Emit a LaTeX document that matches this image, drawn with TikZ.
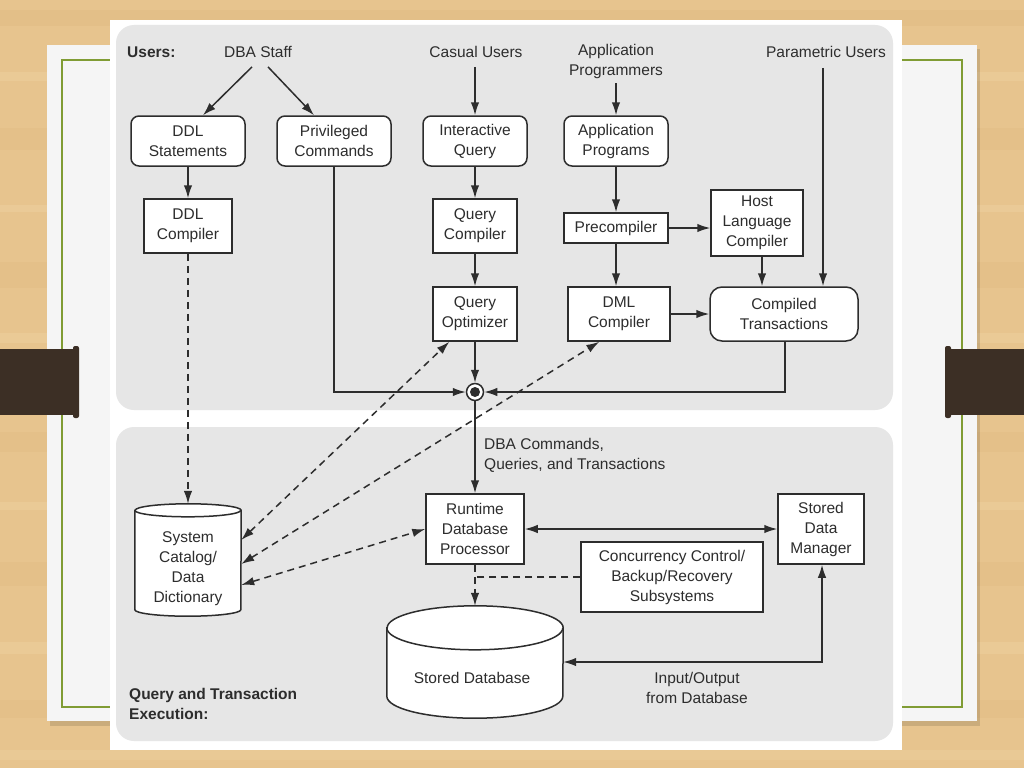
\documentclass[tikz,border=0pt]{standalone}
\usepackage{fontspec}
\setmainfont{Liberation Sans}
\usetikzlibrary{arrows.meta,calc}
\definecolor{ink}{RGB}{45,45,45}
\definecolor{panel}{RGB}{230,230,230}
\definecolor{wood}{RGB}{231,196,142}
\definecolor{woodd}{RGB}{214,172,112}
\definecolor{woodl}{RGB}{242,216,170}
\definecolor{card}{RGB}{245,245,245}
\definecolor{frameg}{RGB}{128,156,52}
\definecolor{tabc}{RGB}{60,47,37}
\begin{document}
\begin{tikzpicture}[x=1pt,y=-1pt,
  font=\fontsize{15.5}{20}\selectfont, text=ink,
  line/.style={draw=ink, line width=1.5pt},
  arrtip/.style={-{Latex[length=13pt,width=8.5pt]}},
  twotip/.style={{Latex[length=13pt,width=8.5pt]}-{Latex[length=13pt,width=8.5pt]}},
  arr/.style={line, arrtip},
  dsh/.style={dash pattern=on 7pt off 5pt},
  darr/.style={line, dsh, twotip},
  rbox/.style={draw=ink, line width=1.5pt, fill=white, rounded corners=8pt, align=center, inner sep=0pt},
  sbox/.style={draw=ink, line width=1.5pt, fill=white, align=center, inner sep=0pt},
  lbl/.style={align=center, inner sep=0pt},
  body/.style={inner sep=0pt, draw=none},
]
\useasboundingbox (0,0) rectangle (1024,768);
% wooden background
\fill[wood] (0,0) rectangle (1024,768);
\foreach \y/\h/\c/\o in {10/16/woodd/0.18, 72/9/woodl/0.3, 128/22/woodd/0.14, 205/7/woodl/0.35, 262/26/woodd/0.16, 333/10/woodl/0.3, 432/20/woodd/0.16, 502/8/woodl/0.3, 562/24/woodd/0.14, 642/12/woodl/0.3, 700/18/woodd/0.16, 750/10/woodl/0.25}
  \fill[\c, opacity=\o] (0,\y) rectangle (1024,\y+\h);
% slide card
\fill[black, opacity=0.12] (50,49) rectangle (980,726);
\fill[card] (47,45) rectangle (977,721);
\draw[frameg, line width=1.5pt] (62,60) rectangle (962,707);
% tabs
\fill[tabc] (0,349) rectangle (76,415);
\fill[tabc, rounded corners=2pt] (73,346) rectangle (79,418);
\fill[tabc] (948,349) rectangle (1024,415);
\fill[tabc, rounded corners=2pt] (945,346) rectangle (951,418);
% diagram sheet
\fill[white] (110,20) rectangle (902,750);
\fill[panel, rounded corners=18pt] (116,25) rectangle (893,410);
\fill[panel, rounded corners=18pt] (116,427) rectangle (893,741);

% labels
\node[lbl, anchor=west, font=\fontsize{15.5}{20}\selectfont\bfseries] (users) at (127,52) {Users:};
\node[lbl] (dba) at (258,52) {DBA Staff};
\node[lbl] (casual) at (476,52) {Casual Users};
\node[lbl] (appprog) at (616,61) {Application\\Programmers};
\node[lbl] (param) at (826,52) {Parametric Users};

% top nodes
\node[rbox, minimum width=114pt, minimum height=50pt] (ddls) at (188,141) {DDL\\Statements};
\node[rbox, minimum width=114pt, minimum height=50pt] (priv) at (334,141) {Privileged\\Commands};
\node[rbox, minimum width=104pt, minimum height=50pt] (iq) at (475,141) {Interactive\\Query};
\node[rbox, minimum width=104pt, minimum height=50pt] (ap) at (616,141) {Application\\Programs};
\node[sbox, minimum width=88pt, minimum height=54pt] (ddlc) at (188,226) {DDL\\Compiler};
\node[sbox, minimum width=84pt, minimum height=54pt] (qc) at (475,226) {Query\\Compiler};
\node[sbox, minimum width=104pt, minimum height=30pt] (pre) at (616,228) {Precompiler};
\node[sbox, minimum width=92pt, minimum height=66pt] (hlc) at (757,223) {Host\\Language\\Compiler};
\node[sbox, minimum width=84pt, minimum height=54pt] (qo) at (475,314) {Query\\Optimizer};
\node[sbox, minimum width=102pt, minimum height=54pt] (dml) at (619,314) {DML\\Compiler};
\node[rbox, rounded corners=12pt, minimum width=148pt, minimum height=54pt] (ct) at (784,314) {Compiled\\Transactions};
\node[circle, draw=ink, line width=1.5pt, fill=white, minimum size=17pt, inner sep=0pt] (j) at (475,392) {};
\fill[ink] (j.center) circle (5);

% bottom nodes
\node[sbox, minimum width=98pt, minimum height=70pt] (rdp) at (475,529) {Runtime\\Database\\Processor};
\node[sbox, minimum width=86pt, minimum height=70pt] (sdm) at (821,529) {Stored\\Data\\Manager};
\node[sbox, minimum width=182pt, minimum height=70pt] (ccb) at (672,577) {Concurrency Control/\\Backup/Recovery\\Subsystems};

% catalog cylinder
\node[body, minimum width=106pt, minimum height=112pt] (cat) at (188,560) {};
\path[line, fill=white] ($(cat.north west)+(0,6.5)$) -- ($(cat.south west)+(0,-6.5)$)
  arc[start angle=180, end angle=0, x radius=53, y radius=6.5]
  -- ($(cat.north east)+(0,6.5)$)
  arc[start angle=0, end angle=-180, x radius=53, y radius=6.5] -- cycle;
\draw[line] ($(cat.north west)+(0,6.5)$) arc[start angle=180, end angle=0, x radius=53, y radius=6.5];
\node[lbl] (catt) at (188,569) {System\\Catalog/\\Data\\Dictionary};

% stored database cylinder
\node[body, minimum width=176pt, minimum height=112pt] (sdb) at (475,662) {};
\path[line, fill=white] ($(sdb.north west)+(0,22)$) -- ($(sdb.south west)+(0,-22)$)
  arc[start angle=180, end angle=0, x radius=88, y radius=22]
  -- ($(sdb.north east)+(0,22)$)
  arc[start angle=0, end angle=-180, x radius=88, y radius=22] -- cycle;
\draw[line] ($(sdb.north west)+(0,22)$) arc[start angle=180, end angle=0, x radius=88, y radius=22];
\node[lbl] (sdbt) at (472,678) {Stored Database};

\node[lbl, align=left, anchor=west] (cmdl) at (484,455) {DBA Commands,\\Queries, and Transactions};
\node[lbl, align=left, anchor=west, font=\fontsize{15.5}{20}\selectfont\bfseries] (qte) at (129,704) {Query and Transaction\\Execution:};
\node[lbl] (io) at (697,688) {Input/Output\\from Database};

% connectors (top)
\draw[arr] ([xshift=-6pt,yshift=-9pt]dba.south) -- ([xshift=15pt]ddls.north);
\draw[arr] ([xshift=10pt,yshift=-9pt]dba.south) -- ([xshift=-20pt]priv.north);
\draw[arr] ([yshift=-9pt]iq.north |- casual.south) -- (iq.north);
\draw[arr] ([yshift=-5pt]ap.north |- appprog.south) -- (ap.north);
\draw[arr] ([xshift=-3pt,yshift=-10pt]param.south) -- ([xshift=-3pt]param.south |- ct.north);
\draw[arr] (ddls.south) -- (ddlc.north);
\draw[arr] (iq.south) -- (qc.north);
\draw[arr] (qc.south) -- (qo.north);
\draw[arr] (ap.south) -- (ap.south |- pre.north);
\draw[arr] (pre.east) -- (hlc.west |- pre.east);
\draw[arr] (pre.south) -- (pre.south |- dml.north);
\draw[arr] ([xshift=5pt]hlc.south) -- ([xshift=5pt]hlc.south |- ct.north);
\draw[arr] (dml.east) -- (ct.west |- dml.east);
\draw[arr] (qo.south) -- (j.north);
\draw[arr] (priv.south) |- (j.west);
\draw[arr] ([xshift=1pt]ct.south) |- (j.east);
\draw[arr] (j.south) -- (rdp.north);

% connectors (bottom)
\draw[line, twotip] (rdp.east) -- (sdm.west);
\draw[line, twotip] ([xshift=1pt]sdm.south) |- (sdb.east);
\draw[line, dsh, arrtip] (ddlc.south) -- (cat.north);
\draw[line, dsh, arrtip] (rdp.south) -- (sdb.north);
\draw[line, dsh] (ccb.west) -- (rdp.south |- ccb.west);
\draw[darr] ([yshift=20pt]cat.east) -- ($(qo.south west)!0.2!(qo.south east)$);
\draw[darr] ([yshift=-4pt]cat.east) -- ($(dml.south west)!0.31!(dml.south east)$);
\draw[darr] ([yshift=-25pt]cat.east) -- (rdp.west);
\end{tikzpicture}
\end{document}
